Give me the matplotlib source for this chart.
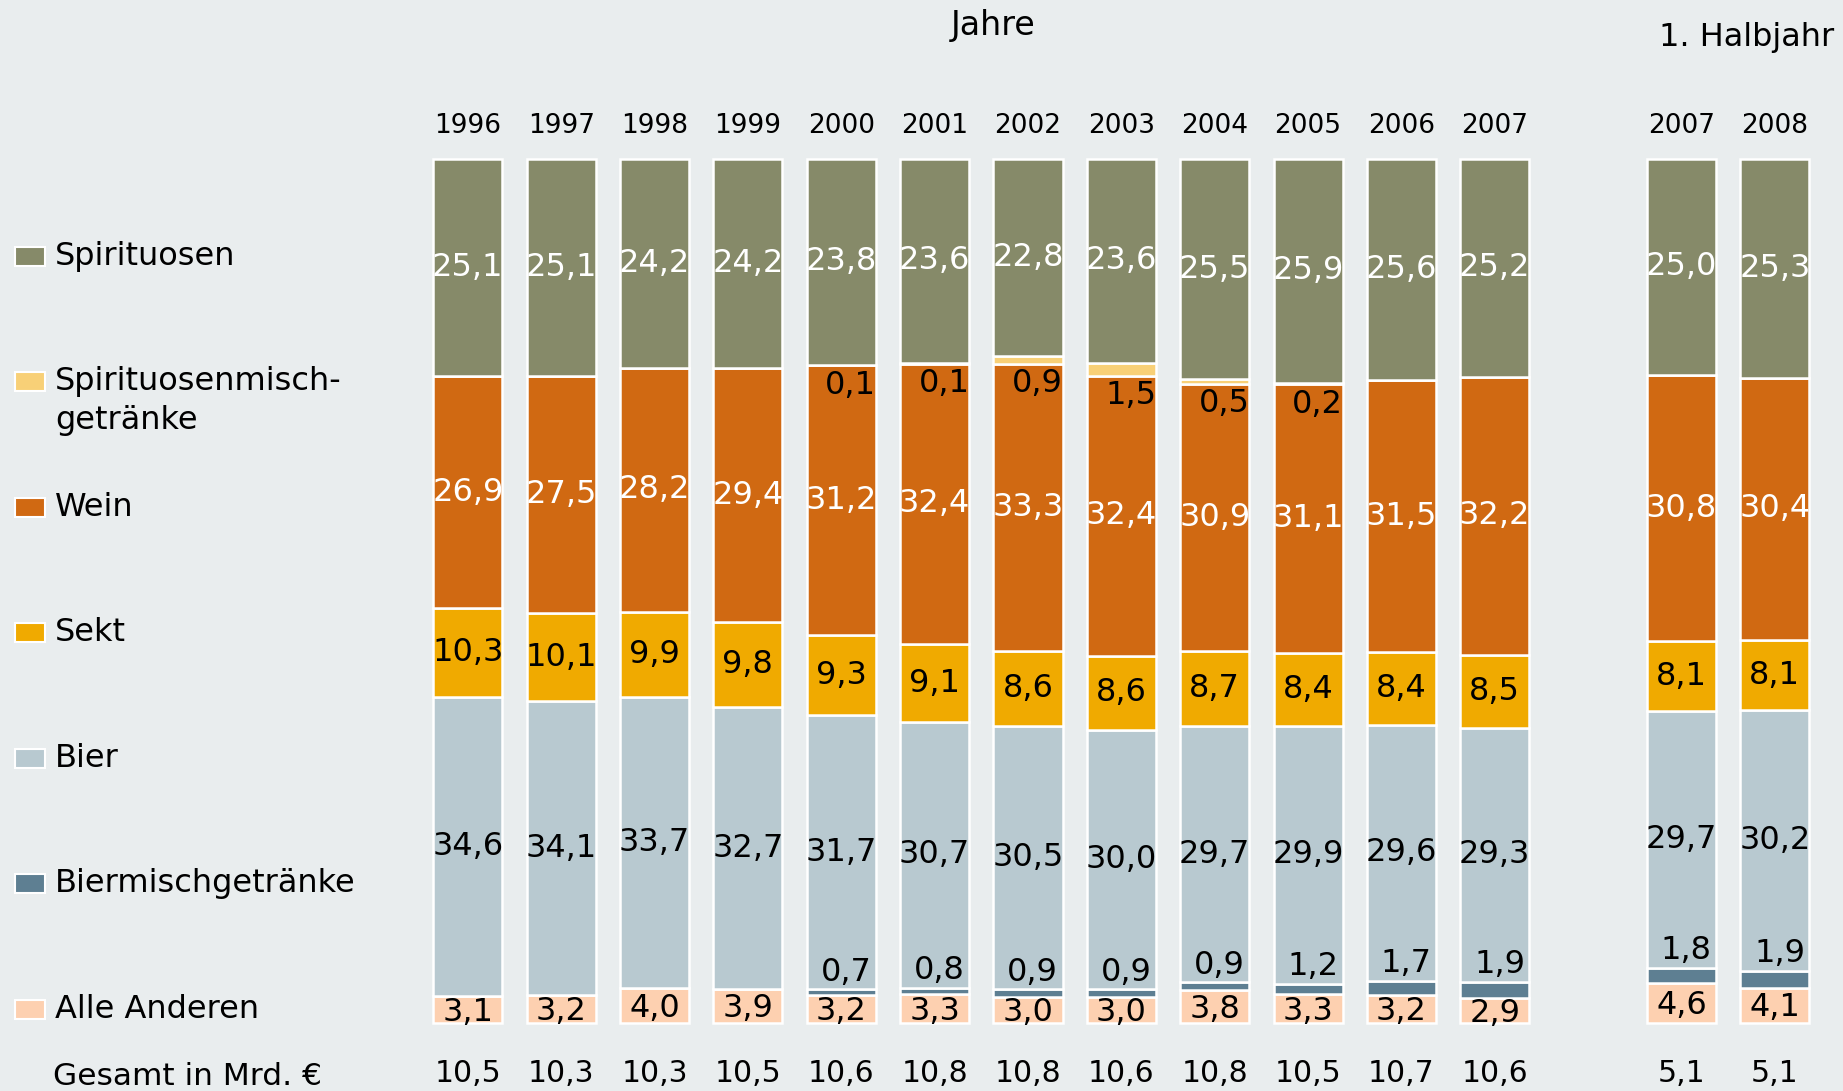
import matplotlib.pyplot as plt
from matplotlib.patches import Rectangle

plt.rcParams['font.family'] = ['DejaVu Sans']

# data (Anteile in %)
labels = ['1996', '1997', '1998', '1999', '2000', '2001', '2002', '2003',
          '2004', '2005', '2006', '2007', '2007', '2008']
spirituosen = [25.1, 25.1, 24.2, 24.2, 23.8, 23.6, 22.8, 23.6, 25.5, 25.9, 25.6, 25.2, 25.0, 25.3]
spirit_misch = [0, 0, 0, 0, 0.1, 0.1, 0.9, 1.5, 0.5, 0.2, 0, 0, 0, 0]
wein = [26.9, 27.5, 28.2, 29.4, 31.2, 32.4, 33.3, 32.4, 30.9, 31.1, 31.5, 32.2, 30.8, 30.4]
sekt = [10.3, 10.1, 9.9, 9.8, 9.3, 9.1, 8.6, 8.6, 8.7, 8.4, 8.4, 8.5, 8.1, 8.1]
bier = [34.6, 34.1, 33.7, 32.7, 31.7, 30.7, 30.5, 30.0, 29.7, 29.9, 29.6, 29.3, 29.7, 30.2]
biermisch = [0, 0, 0, 0, 0.7, 0.8, 0.9, 0.9, 0.9, 1.2, 1.7, 1.9, 1.8, 1.9]
andere = [3.1, 3.2, 4.0, 3.9, 3.2, 3.3, 3.0, 3.0, 3.8, 3.3, 3.2, 2.9, 4.6, 4.1]
gesamt = [10.5, 10.3, 10.3, 10.5, 10.6, 10.8, 10.8, 10.6, 10.8, 10.5, 10.7, 10.6, 5.1, 5.1]

legend_names = ['Spirituosen', ['Spirituosenmisch-', 'getränke'], 'Wein', 'Sekt', 'Bier',
                'Biermischgetränke', 'Alle Anderen']

bg = '#e9edee'
c_spir = '#868a69'
c_smix = '#f8d077'
c_wein = '#d06912'
c_sekt = '#f0aa00'
c_bier = '#b8c9d0'
c_bmix = '#5e7f92'
c_and = '#fdd0b0'


def fmt(v):
    return f'{v:.1f}'.replace('.', ',')


# bar positions: 12 years, gap, 2 half years
x = [i if i < 12 else i + 1 for i in range(len(labels))]
w = 0.74

fig = plt.figure(figsize=(18.43, 10.91), dpi=100, facecolor=bg)
ax = fig.add_axes([0, 0, 1, 1])
ax.set_facecolor(bg)
ax.axis('off')
ax.set_xlim(-5.011, 14.73)
ax.set_ylim(-7.87, 118.40)

stack = [andere, biermisch, bier, sekt, wein, spirit_misch, spirituosen]
colors = [c_and, c_bmix, c_bier, c_sekt, c_wein, c_smix, c_spir]
bottom = [0.0] * len(labels)
bottoms = []
for vals, col in zip(stack, colors):
    bottoms.append(list(bottom))
    ax.bar(x, vals, w, bottom=bottom, color=col, edgecolor='white', linewidth=1.8)
    bottom = [b + v for b, v in zip(bottom, vals)]

b_and, b_bmix, b_bier, b_sekt, b_wein, b_smix, b_spir = bottoms
fs = 23

for i, xi in enumerate(x):
    ax.text(xi, b_spir[i] + spirituosen[i] / 2, fmt(spirituosen[i]), ha='center', va='center',
            color='white', fontsize=fs)
    ax.text(xi, b_wein[i] + wein[i] / 2, fmt(wein[i]), ha='center', va='center',
            color='white', fontsize=fs)
    ax.text(xi, b_sekt[i] + sekt[i] / 2, fmt(sekt[i]), ha='center', va='center',
            color='black', fontsize=fs)
    ax.text(xi, b_bier[i] + bier[i] / 2, fmt(bier[i]), ha='center', va='center',
            color='black', fontsize=fs)
    ax.text(xi, b_and[i] + andere[i] / 2 - 0.3, fmt(andere[i]), ha='center', va='center',
            color='black', fontsize=fs)
    if spirit_misch[i] > 0:
        ax.text(xi + 0.1, b_smix[i] - 2.3, fmt(spirit_misch[i]), ha='center', va='center',
                color='black', fontsize=fs)
    if biermisch[i] > 0:
        ax.text(xi + 0.05, b_bmix[i] + biermisch[i] + 2.0, fmt(biermisch[i]), ha='center',
                va='center', color='black', fontsize=fs)
    ax.text(xi, 103.8, labels[i], ha='center', va='center', fontsize=19)
    ax.text(xi, -5.8, fmt(gesamt[i]), ha='center', va='center', fontsize=21.5)

ax.text(5.63, 115.4, 'Jahre', ha='center', va='center', fontsize=24)
ax.text(14.64, 114.1, '1. Halbjahr', ha='right', va='center', fontsize=23)
ax.text(-4.44, -6.2, 'Gesamt in Mrd. €', ha='left', va='center', fontsize=22.5)

# legend
leg_colors = [c_spir, c_smix, c_wein, c_sekt, c_bier, c_bmix, c_and]
for k, (name, col) in enumerate(zip(legend_names, leg_colors)):
    yc = 118.40 - (256 + k * 125.5) / 8.64
    ax.add_patch(Rectangle((-4.85, yc - 1.1), 0.32, 2.2, facecolor=col, edgecolor='white',
                           linewidth=1.5, clip_on=False))
    if isinstance(name, list):
        ax.text(-4.42, yc, name[0], ha='left', va='center', fontsize=23)
        ax.text(-4.42, yc - 4.5, name[1], ha='left', va='center', fontsize=23)
    else:
        ax.text(-4.42, yc, name, ha='left', va='center', fontsize=23)

fig.savefig('out.png', dpi=100, facecolor=bg)
